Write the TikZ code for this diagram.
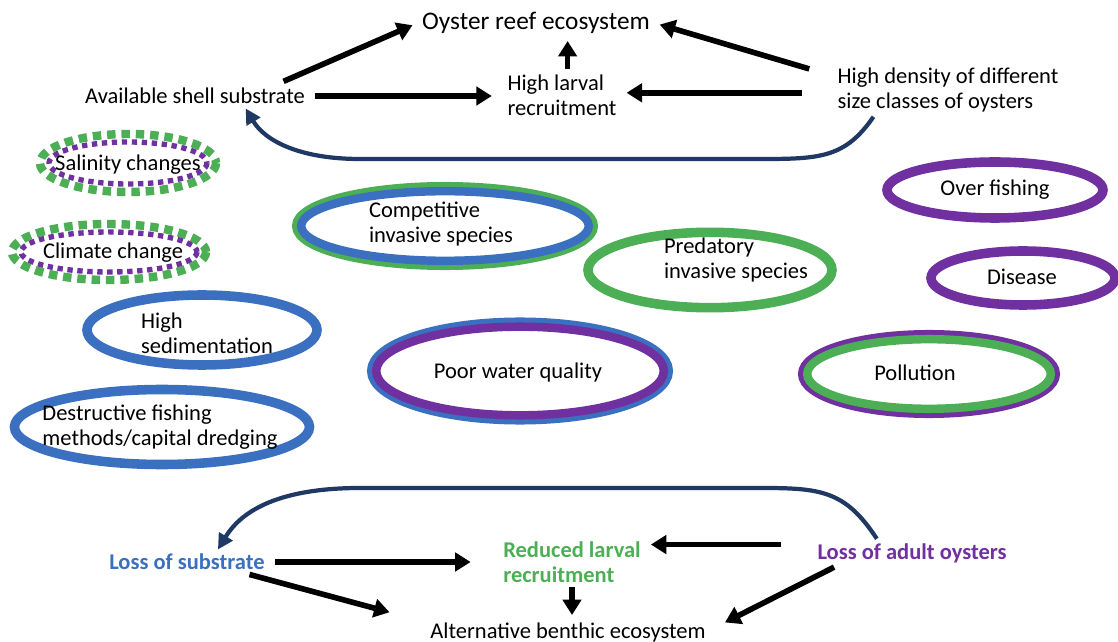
\documentclass[tikz,border=0pt]{standalone}
\usepackage{fontspec}
\setmainfont{Carlito}
\usepackage{tikz}
\usetikzlibrary{arrows.meta}
\definecolor{oblue}{HTML}{3A70BF}
\definecolor{ogreen}{HTML}{4DAF55}
\definecolor{opurple}{HTML}{7030A0}
\definecolor{onavy}{HTML}{1F3864}

\begin{document}
\begin{tikzpicture}[
  x=0.025cm, y=-0.025cm,
  lbl/.style={inner sep=3pt, font=\fontsize{16}{18}\selectfont, align=left},
  boldlbl/.style={lbl, font=\fontsize{16}{18}\selectfont\bfseries},
  ring/.style={line width=6.8pt},
  outring/.style={line width=8pt},
  inring/.style={line width=6pt},
  dashring/.style={line width=6pt, dash pattern=on 6pt off 4.2pt},
  dotring/.style={line width=3.8pt, dash pattern=on 3.8pt off 3.3pt},
  arr/.style={line width=4pt, -{Triangle[length=11pt, width=13pt]},
              shorten <=4pt, shorten >=4pt},
  loop/.style={line width=3pt, onavy, -{Triangle[length=11pt, width=11pt]}},
]
\useasboundingbox (0,0) rectangle (1118,642);

% top: healthy reef
\node[lbl, font=\fontsize{18}{20}\selectfont] (oyster) at (536,23) {Oyster reef ecosystem};
\node[lbl] (avail) at (195,96) {Available shell substrate};
\node[lbl] (larval) at (562,95) {High larval\\recruitment};
\node[lbl] (density) at (948,90) {High density of different\\size classes of oysters};

\draw[arr] ([xshift=-22pt]avail.north east) -- (oyster.west);
\draw[arr, shorten >=8pt] (avail.east) -- (avail.east -| larval.west);
\draw[arr, shorten <=1pt, shorten >=2pt] ([xshift=4pt]larval.north) -- ([xshift=4pt]larval.north |- oyster.south);
\draw[arr, shorten <=0pt] ([shift={(-17pt,15pt)}]density.west) -- (oyster.east);
\draw[arr, shorten <=0pt] ([xshift=-22pt,yshift=-2pt]density.west) -- ([yshift=-2pt]density.west -| larval.east);
\draw[loop] ([xshift=-53pt]density.south) .. controls (845,158) and (820,159) .. (760,159)
  -- (360,159) .. controls (300,159) and (265,141) .. ([xshift=36pt]avail.south);

% stressors
\draw[dashring, ogreen] (128,163) ellipse [x radius=88, y radius=29];
\draw[dotring, opurple] (128,163) ellipse [x radius=79, y radius=21];
\node[lbl] (salin) at (128,165) {Salinity changes};

\draw[dashring, ogreen] (109,252) ellipse [x radius=97, y radius=28];
\draw[dotring, opurple] (109,252) ellipse [x radius=88, y radius=20];
\node[lbl] (climate) at (113,253) {Climate change};

\draw[outring, ogreen] (445,226) ellipse [x radius=147.4, y radius=38.4];
\draw[inring, oblue] (445,226) ellipse [x radius=143.8, y radius=34.8];
\node[lbl] (compet) at (441,224) {Competitive\\invasive species};

\draw[ring, ogreen] (710,270) ellipse [x radius=122, y radius=37.7];
\node[lbl] (predat) at (736,260) {Predatory\\invasive species};

\draw[ring, opurple] (995,190) ellipse [x radius=108, y radius=28];
\node[lbl] (overf) at (995,190) {Over fishing};

\draw[ring, opurple] (1023,278) ellipse [x radius=92, y radius=27];
\node[lbl] (disease) at (1022,277) {Disease};

\draw[ring, oblue] (202,330) ellipse [x radius=115, y radius=35];
\node[lbl] (sediment) at (207,333) {High\\sedimentation};

\draw[outring, oblue] (520,371) ellipse [x radius=147.4, y radius=47.9];
\draw[inring, opurple] (520,371) ellipse [x radius=143.8, y radius=44.3];
\node[lbl] (water) at (518,373) {Poor water quality};

\draw[outring, opurple] (929,374) ellipse [x radius=125.4, y radius=38.4];
\draw[inring, ogreen] (929,374) ellipse [x radius=121.8, y radius=34.8];
\node[lbl] (pollut) at (915,373) {Pollution};

\draw[ring, oblue] (162,427) ellipse [x radius=147.5, y radius=37.5];
\node[lbl] (dredge) at (160,427) {Destructive fishing\\methods/capital dredging};

% bottom: degraded state
\node[boldlbl, text=oblue] (lsub) at (187,562) {Loss of substrate};
\node[boldlbl, text=ogreen] (reduced) at (572,562) {Reduced larval\\recruitment};
\node[boldlbl, text=opurple] (ladult) at (912,553) {Loss of adult oysters};
\node[lbl] (alt) at (568,632) {Alternative benthic ecosystem};

\draw[arr, shorten >=20pt] (lsub.east) -- (lsub.east -| reduced.west);
\draw[arr, shorten <=0pt] ([xshift=-14pt]lsub.south east) -- ([shift={(-22pt,13pt)}]alt.west);
\draw[arr, shorten <=0pt, shorten >=2pt] (reduced.south) -- (reduced.south |- alt.north);
\draw[arr, shorten <=0pt] ([xshift=-23pt,yshift=6pt]ladult.west) -- ([yshift=6pt]ladult.west -| reduced.east);
\draw[arr, shorten <=0pt] ([xshift=15pt]ladult.south west) -- ([shift={(7pt,5pt)}]alt.east);
\draw[loop] ([xshift=-25pt]ladult.north) .. controls (845,490) and (820,488) .. (760,488)
  -- (360,488) .. controls (290,488) and (245,505) .. ([xshift=22pt]lsub.north);

\end{tikzpicture}
\end{document}
